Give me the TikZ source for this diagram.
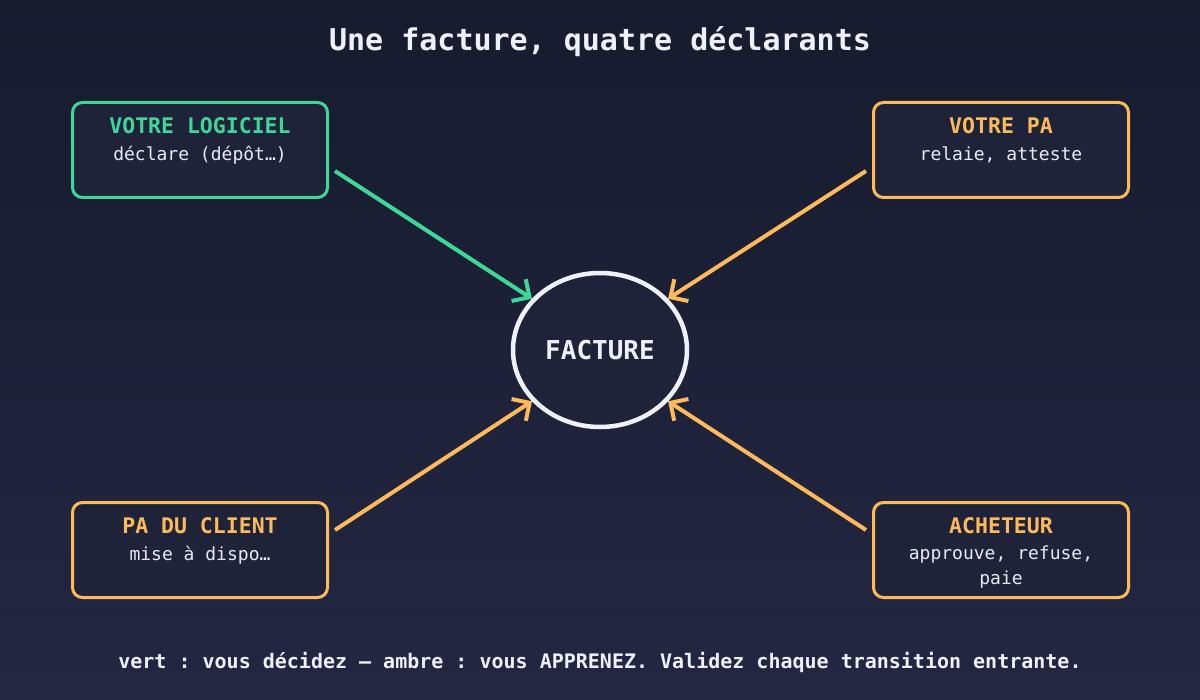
\documentclass[tikz,border=0pt]{standalone}
\usepackage{fontspec}
\setmonofont{DejaVu Sans Mono}
\usetikzlibrary{shapes.geometric,arrows.meta}
\definecolor{bgtop}{HTML}{171B2E}
\definecolor{bgbot}{HTML}{232742}
\definecolor{boxfill}{HTML}{1F2339}
\definecolor{vert}{HTML}{3DD897}
\definecolor{ambre}{HTML}{FDBA5A}
\definecolor{blanc}{HTML}{EEF0FA}
\definecolor{soustexte}{HTML}{E8EAF4}
\tikzset{
  acteur/.style={draw, line width=3pt, rounded corners=10pt, fill=boxfill,
    minimum width=255pt, minimum height=95pt, inner sep=0pt},
  titre/.style={font=\ttfamily\bfseries\fontsize{21.5}{25}\selectfont},
  sous/.style={font=\ttfamily\fontsize{18}{25}\selectfont, text=soustexte, align=center},
  fleche/.style={line width=4pt, -{Straight Barb[length=13pt,width=26pt]}},
}
\begin{document}
\begin{tikzpicture}[x=1pt,y=-1pt]
\useasboundingbox (0,0) rectangle (1200,700);
\shade[top color=bgtop, bottom color=bgbot] (0,0) rectangle (1200,700);

\node[font=\ttfamily\bfseries\fontsize{30}{34}\selectfont, text=blanc] (t) at (600,42) {Une facture, quatre déclarants};

% boxes
\node[acteur, draw=vert] (lg) at (200,150) {};
\node[acteur, draw=ambre] (pa) at (1001,150) {};
\node[acteur, draw=ambre] (pc) at (200,550) {};
\node[acteur, draw=ambre] (ac) at (1001,550) {};

\node[titre, text=vert] (lgt) at (200,126) {VOTRE LOGICIEL};
\node[sous] (lgs) at (200,155) {déclare (dépôt…)};
\node[titre, text=ambre] (pat) at (1001,126) {VOTRE PA};
\node[sous] (pas) at (1001,155) {relaie, atteste};
\node[titre, text=ambre] (pct) at (200,526) {PA DU CLIENT};
\node[sous] (pcs) at (200,555) {mise à dispo…};
\node[titre, text=ambre] (act) at (1001,526) {ACHETEUR};
\node[sous, anchor=north] (acs) at (1001,542) {approuve, refuse,\\paie};

% center
\node[ellipse, draw=blanc, line width=4.5pt, fill=boxfill, minimum width=174pt, minimum height=154pt, inner sep=0pt,
  font=\ttfamily\bfseries\fontsize{26}{30}\selectfont, text=blanc] (f) at (600,350) {FACTURE};

% connector starts
\coordinate (s1) at (335,171);
\coordinate (s2) at (866,171);
\coordinate (s3) at (335,530);
\coordinate (s4) at (866,530);

\draw[fleche, draw=vert] (s1) -- (f.143);
\draw[fleche, draw=ambre] (s2) -- (f.37);
\draw[fleche, draw=ambre] (s3) -- (f.217);
\draw[fleche, draw=ambre] (s4) -- (f.323);

\node[font=\ttfamily\bfseries\fontsize{20}{24}\selectfont, text=blanc] (leg) at (600,662) {vert : vous décidez — ambre : vous APPRENEZ. Validez chaque transition entrante.};
\end{tikzpicture}
\end{document}
